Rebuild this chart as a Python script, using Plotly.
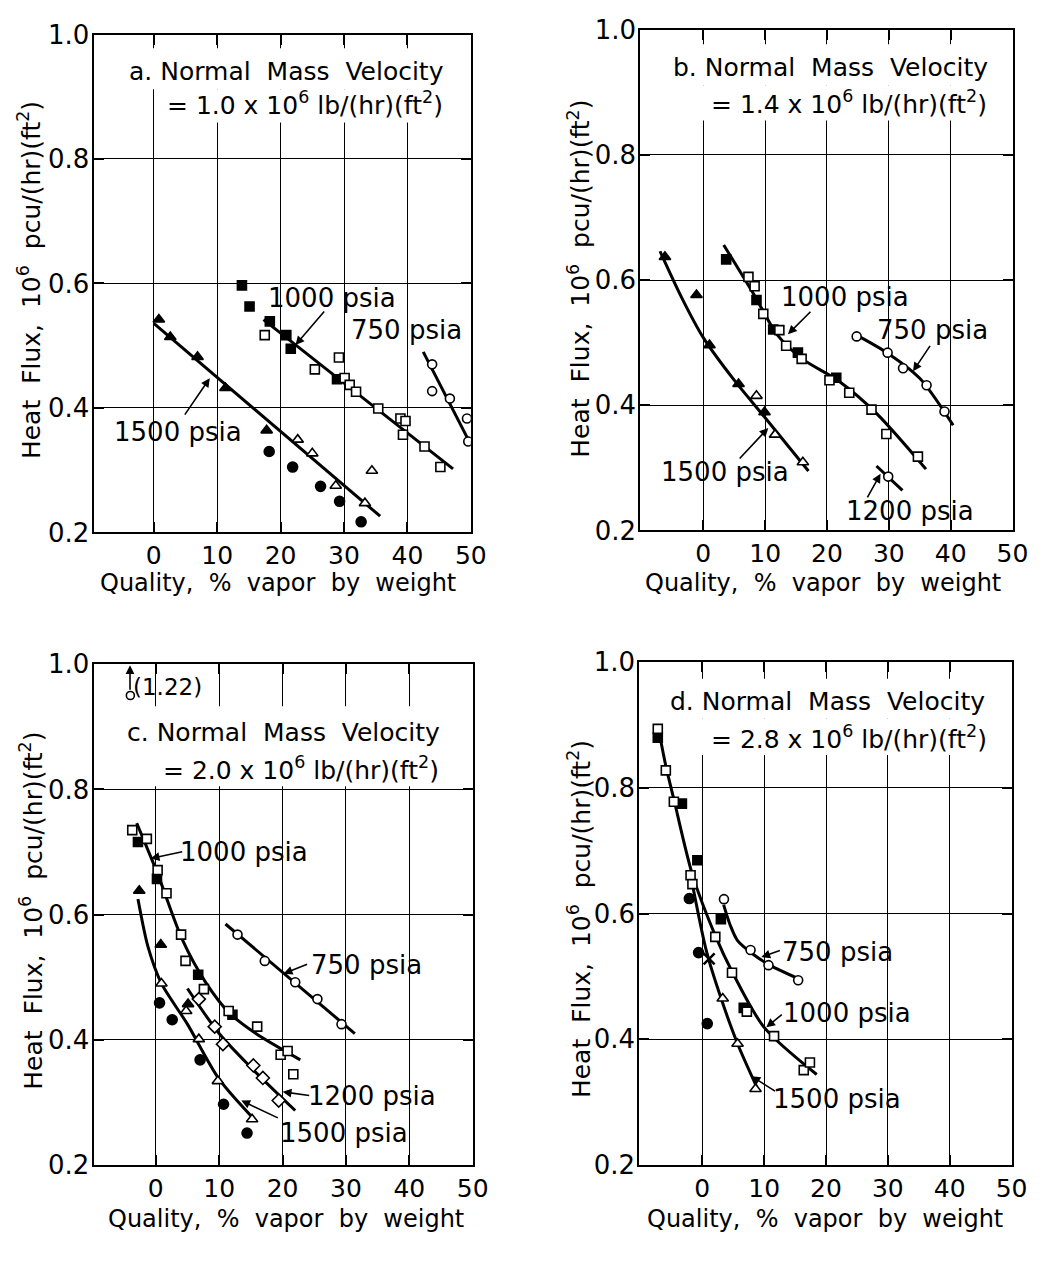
import plotly.graph_objects as go

W, H = 1063, 1262
FONT = "DejaVu Sans"

# ---------------- Panel a: G = 1.0e6 ----------------
a_1000_filled_x = [13.9, 15.1, 18.3, 20.9, 21.6, 28.9]
a_1000_filled_y = [0.597, 0.563, 0.539, 0.517, 0.495, 0.446]
a_1000_open_x = [17.5, 25.4, 29.2, 30.1, 30.9, 31.9, 35.4, 38.9, 39.7, 39.3, 42.7, 45.2]
a_1000_open_y = [0.517, 0.462, 0.481, 0.448, 0.437, 0.426, 0.399, 0.383, 0.379, 0.357, 0.338, 0.305]
a_1000_fit_x = [17.3, 47.2]
a_1000_fit_y = [0.542, 0.302]
a_750_x = [43.9, 43.9, 46.7, 49.4, 49.6]
a_750_y = [0.470, 0.427, 0.415, 0.383, 0.346]
a_750_fit_x = [42.5, 50.0]
a_750_fit_y = [0.490, 0.341]
a_1500_trif_x = [0.8, 2.6, 6.9, 11.3, 17.8]
a_1500_trif_y = [0.542, 0.514, 0.482, 0.432, 0.364]
a_1500_trio_x = [22.7, 25.0, 28.7, 34.4, 33.3]
a_1500_trio_y = [0.349, 0.327, 0.275, 0.299, 0.247]
a_1500_circ_x = [18.2, 21.9, 26.3, 29.3, 32.7]
a_1500_circ_y = [0.330, 0.305, 0.274, 0.250, 0.217]
a_1500_fit_x = [0.0, 35.7]
a_1500_fit_y = [0.536, 0.226]

# ---------------- Panel b: G = 1.4e6 ----------------
b_1500_trif_x = [-6.2, -1.1, 1.0, 5.7, 9.9]
b_1500_trif_y = [0.637, 0.576, 0.496, 0.434, 0.389]
b_1500_trio_x = [8.6, 11.6, 16.1]
b_1500_trio_y = [0.415, 0.353, 0.309]
b_1500_fit_x = [-7.0, -3.5, 0.0, 5.0, 10.0, 17.0]
b_1500_fit_y = [0.646, 0.572, 0.508, 0.440, 0.380, 0.295]
b_1000_filled_x = [3.7, 8.6, 11.3, 15.3, 21.5]
b_1000_filled_y = [0.633, 0.568, 0.521, 0.484, 0.444]
b_1000_open_x = [7.3, 8.3, 9.7, 12.3, 13.4, 15.9, 20.4, 23.6, 27.2, 29.6, 34.7]
b_1000_open_y = [0.605, 0.590, 0.546, 0.520, 0.495, 0.474, 0.440, 0.420, 0.393, 0.354, 0.318]
b_1000_fit_x = [3.3, 8.0, 12.0, 16.0, 22.0, 28.0, 36.0]
b_1000_fit_y = [0.656, 0.580, 0.512, 0.474, 0.438, 0.387, 0.298]
b_750_x = [24.8, 29.8, 32.3, 36.1, 39.0]
b_750_y = [0.510, 0.484, 0.459, 0.432, 0.390]
b_750_fit_x = [24.8, 30.0, 35.0, 40.4]
b_750_fit_y = [0.512, 0.482, 0.443, 0.368]
b_1200_x = [29.9]
b_1200_y = [0.286]
b_1200_fit_x = [28.0, 32.2]
b_1200_fit_y = [0.303, 0.264]

# ---------------- Panel c: G = 2.0e6 ----------------
c_1000_open_x = [-3.7, -1.4, 0.3, 1.7, 4.0, 4.7, 7.6, 11.5, 16.0, 19.7, 20.8, 21.7]
c_1000_open_y = [0.735, 0.721, 0.671, 0.634, 0.568, 0.526, 0.481, 0.446, 0.421, 0.376, 0.382, 0.345]
c_1000_filled_x = [-2.8, 0.2, 6.7, 12.1]
c_1000_filled_y = [0.716, 0.657, 0.504, 0.440]
c_1000_fit_x = [-3.0, 0.3, 4.2, 7.8, 11.6, 15.8, 22.8]
c_1000_fit_y = [0.746, 0.665, 0.560, 0.493, 0.443, 0.410, 0.368]
c_750_x = [12.9, 17.2, 22.0, 25.5, 29.3]
c_750_y = [0.568, 0.526, 0.492, 0.465, 0.425]
c_750_fit_x = [11.0, 31.4]
c_750_fit_y = [0.585, 0.410]
c_1200_x = [6.8, 9.3, 10.6, 15.4, 16.9, 19.4]
c_1200_y = [0.465, 0.421, 0.393, 0.359, 0.339, 0.303]
c_1200_fit_x = [5.0, 10.0, 15.0, 22.0]
c_1200_fit_y = [0.482, 0.410, 0.356, 0.287]
c_1500_trif_x = [-2.6, 0.8, 5.1]
c_1500_trif_y = [0.638, 0.552, 0.457]
c_1500_trio_x = [0.9, 4.8, 6.8, 9.8, 15.2]
c_1500_trio_y = [0.490, 0.446, 0.401, 0.334, 0.273]
c_1500_circ_x = [0.6, 2.6, 7.0, 10.7, 14.4]
c_1500_circ_y = [0.459, 0.432, 0.368, 0.297, 0.251]
c_1500_fit_x = [-2.8, -1.2, 0.9, 5.0, 10.0, 15.8]
c_1500_fit_y = [0.625, 0.548, 0.490, 0.425, 0.337, 0.270]
c_offscale_x = [-4.0]
c_offscale_y = [0.950]
c_offscale_label = "(1.22)"

# ---------------- Panel d: G = 2.8e6 ----------------
d_1000_open_x = [-7.2, -5.9, -4.6, -1.9, -1.6, 2.1, 4.8, 7.2, 11.6, 16.4, 17.4]
d_1000_open_y = [0.894, 0.828, 0.778, 0.661, 0.647, 0.563, 0.506, 0.444, 0.405, 0.351, 0.363]
d_1000_filled_x = [-7.2, -3.3, -0.8, 3.0, 6.7]
d_1000_filled_y = [0.880, 0.775, 0.685, 0.591, 0.450]
d_1000_fit_x = [-7.2, -5.9, -4.6, -1.6, 2.1, 4.8, 10.0, 18.5]
d_1000_fit_y = [0.900, 0.835, 0.782, 0.662, 0.565, 0.508, 0.419, 0.344]
d_1500_circ_x = [-2.1, -0.6, 0.8]
d_1500_circ_y = [0.624, 0.538, 0.425]
d_1500_trio_x = [3.3, 5.7, 8.6]
d_1500_trio_y = [0.465, 0.393, 0.321]
d_1500_cross_x = [1.1]
d_1500_cross_y = [0.528]
d_1500_fit_x = [-1.9, 0.7, 3.0, 5.7, 8.9]
d_1500_fit_y = [0.662, 0.539, 0.466, 0.393, 0.322]
d_750_x = [3.5, 7.8, 10.7, 15.5]
d_750_y = [0.623, 0.542, 0.518, 0.494]
d_750_fit_x = [3.45, 4.5, 5.7, 8.0, 10.9, 16.1]
d_750_fit_y = [0.614, 0.582, 0.557, 0.537, 0.518, 0.494]

x_ticks = [0, 10, 20, 30, 40, 50]
y_ticks = [0.2, 0.4, 0.6, 0.8, 1.0]
y_ticktext = ["0.2", "0.4", "0.6", "0.8", "1.0"]

fig = go.Figure()


def line(x, y, ax, spline=False):
    fig.add_trace(go.Scatter(
        x=x, y=y, mode="lines", xaxis="x" + ax, yaxis="y" + ax,
        line=dict(color="black", width=3, shape="spline" if spline else "linear", smoothing=0.8),
        showlegend=False, hoverinfo="skip"))


def pts(x, y, ax, symbol, filled, size=9):
    fig.add_trace(go.Scatter(
        x=x, y=y, mode="markers", xaxis="x" + ax, yaxis="y" + ax,
        marker=dict(symbol=symbol, size=size, color="black" if filled else "white",
                    line=dict(color="black", width=1.6)),
        showlegend=False, hoverinfo="skip"))


A, B, C, D = "", "2", "3", "4"
# panel a
line(a_1000_fit_x, a_1000_fit_y, A)
line(a_750_fit_x, a_750_fit_y, A)
line(a_1500_fit_x, a_1500_fit_y, A)
pts(a_1000_filled_x, a_1000_filled_y, A, "square", True)
pts(a_1000_open_x, a_1000_open_y, A, "square", False)
pts(a_750_x, a_750_y, A, "circle", False)
pts(a_1500_trif_x, a_1500_trif_y, A, "triangle-up", True, 10)
pts(a_1500_trio_x, a_1500_trio_y, A, "triangle-up", False, 10)
pts(a_1500_circ_x, a_1500_circ_y, A, "circle", True, 10)

# panel b
line(b_1500_fit_x, b_1500_fit_y, B, True)
line(b_1000_fit_x, b_1000_fit_y, B, True)
line(b_750_fit_x, b_750_fit_y, B, True)
line(b_1200_fit_x, b_1200_fit_y, B)
pts(b_1500_trif_x, b_1500_trif_y, B, "triangle-up", True, 10)
pts(b_1500_trio_x, b_1500_trio_y, B, "triangle-up", False, 10)
pts(b_1000_filled_x, b_1000_filled_y, B, "square", True)
pts(b_1000_open_x, b_1000_open_y, B, "square", False)
pts(b_750_x, b_750_y, B, "circle", False)
pts(b_1200_x, b_1200_y, B, "circle", False)

# panel c
line(c_1000_fit_x, c_1000_fit_y, C, True)
line(c_750_fit_x, c_750_fit_y, C)
line(c_1200_fit_x, c_1200_fit_y, C, True)
line(c_1500_fit_x, c_1500_fit_y, C, True)
pts(c_1000_filled_x, c_1000_filled_y, C, "square", True)
pts(c_1000_open_x, c_1000_open_y, C, "square", False)
pts(c_750_x, c_750_y, C, "circle", False)
pts(c_1200_x, c_1200_y, C, "diamond", False, 10)
pts(c_1500_trif_x, c_1500_trif_y, C, "triangle-up", True, 10)
pts(c_1500_trio_x, c_1500_trio_y, C, "triangle-up", False, 10)
pts(c_1500_circ_x, c_1500_circ_y, C, "circle", True, 10)
pts(c_offscale_x, c_offscale_y, C, "circle", False, 8)

# panel d
line(d_1000_fit_x, d_1000_fit_y, D, True)
line(d_1500_fit_x, d_1500_fit_y, D, True)
line(d_750_fit_x, d_750_fit_y, D, True)
pts(d_1000_filled_x, d_1000_filled_y, D, "square", True)
pts(d_1000_open_x, d_1000_open_y, D, "square", False)
pts(d_1500_circ_x, d_1500_circ_y, D, "circle", True, 10)
pts(d_1500_trio_x, d_1500_trio_y, D, "triangle-up", False, 10)
fig.add_trace(go.Scatter(x=d_1500_cross_x, y=d_1500_cross_y, mode="markers", xaxis="x4", yaxis="y4",
                         marker=dict(symbol="x-thin", size=11, line=dict(color="black", width=2.5)),
                         showlegend=False, hoverinfo="skip"))
pts(d_750_x, d_750_y, D, "circle", False)


def xax(dom, xmin):
    return dict(domain=dom, range=[xmin, 50], tickvals=x_ticks, ticks="inside", ticklen=10,
                tickwidth=1.5, tickcolor="black", showline=True, linecolor="black", linewidth=2,
                mirror="ticks", showgrid=True, gridcolor="black", gridwidth=1.3, zeroline=False,
                tickfont=dict(family=FONT, size=25, color="black"), fixedrange=True)


def yax(dom, anchor):
    return dict(domain=dom, range=[0.2, 1.0], tickvals=y_ticks, ticktext=y_ticktext, ticks="inside",
                ticklen=10, tickwidth=1.5, tickcolor="black", showline=True, linecolor="black",
                linewidth=2, mirror="ticks", showgrid=True, gridcolor="black", gridwidth=1.3,
                zeroline=False, anchor=anchor, ticklabelstandoff=-3,
                tickfont=dict(family=FONT, size=26, color="black"), fixedrange=True)


def px_dom(a, b):
    return [a / W, b / W]


def py_dom(top, bot):
    return [1 - bot / H, 1 - top / H]


# white areas behind the panel titles (they interrupt the grid, as in the original)
def blank(x0, y0, x1, y1):
    return dict(type="rect", xref="paper", yref="paper", x0=x0 / W, x1=x1 / W,
                y0=1 - y1 / H, y1=1 - y0 / H, fillcolor="white", line=dict(width=0),
                layer="above")


shapes = [
    blank(112, 34, 470, 76), blank(158, 76, 466, 110),
    blank(668, 30, 1018, 72), blank(712, 72, 1012, 108),
    blank(112, 708, 466, 755), blank(152, 755, 462, 790),
    blank(672, 680, 1018, 721), blank(712, 721, 1012, 758),
]

fig.update_layout(
    width=W, height=H, margin=dict(l=0, r=0, t=0, b=0),
    paper_bgcolor="white", plot_bgcolor="white", shapes=shapes,
    xaxis=dict(xax(px_dom(95, 478), -9.5), anchor="y"),
    yaxis=yax(py_dom(20, 530), "x"),
    xaxis2=dict(xax(px_dom(650, 1028), -10.2), anchor="y2"),
    yaxis2=yax(py_dom(15, 528), "x2"),
    xaxis3=dict(xax(px_dom(95, 480), -9.8), anchor="y3"),
    yaxis3=yax(py_dom(665, 1178), "x3"),
    xaxis4=dict(xax(px_dom(649, 1027), -10.2), anchor="y4"),
    yaxis4=yax(py_dom(663, 1178), "x4"),
)

ann = []


def P(px, py):
    return px / W, 1 - py / H


def text(px, py, s, size=26, xanchor="center", align="center"):
    x, y = P(px, py)
    ann.append(dict(x=x, y=y, xref="paper", yref="paper", text=s, showarrow=False, xanchor=xanchor,
                    yanchor="middle", align=align, font=dict(family=FONT, size=size, color="black")))


def arrow(hx, hy, tx, ty):
    x, y = P(hx, hy)
    ann.append(dict(x=x, y=y, xref="paper", yref="paper", text="", showarrow=True,
                    ax=tx - hx, ay=ty - hy, arrowhead=2, arrowsize=1.1, arrowwidth=1.6,
                    arrowcolor="black"))


def title(c1, c2, letter, g):
    text(c1[0], c1[1], f"{letter}. Normal  Mass  Velocity", size=25)
    text(c2[0], c2[1], f"= {g} x 10<sup>6</sup> lb/(hr)(ft<sup>2</sup>)", size=25)


title((291, 58), (310, 91), "a", "1.0")
title((843, 54), (862, 90), "b", "1.4")
title((288, 735), (306, 772), "c", "2.0")
title((840, 703), (862, 740), "d", "2.8")

ylab = "Heat  Flux,  10<sup>6</sup>  pcu/(hr)(ft<sup>2</sup>)"
xlab = "Quality,  %  vapor  by  weight"
for (cx, cy) in [(30, 272), (588, 270), (32, 918), (589, 926)]:
    x, y = P(cx, cy)
    ann.append(dict(x=x, y=y, xref="paper", yref="paper", text=ylab, showarrow=False,
                    textangle=-90, xanchor="center", yanchor="middle",
                    font=dict(family=FONT, size=25, color="black")))
for (cx, cy) in [(282, 582), (836, 582), (290, 1233), (838, 1233)]:
    text(cx, cy, xlab, size=24)

# panel a labels
text(337, 290, "1000 psia"); arrow(300, 338, 330, 303)
text(413, 323, "750 psia")
text(181, 427, "1500 psia"); arrow(213, 372, 187, 410)
# panel b labels
text(858, 289, "1000 psia"); arrow(800, 327, 824, 303)
text(947, 323, "750 psia"); arrow(927, 365, 945, 338)
text(736, 468, "1500 psia"); arrow(780, 423, 750, 455)
text(924, 508, "1200 psia"); arrow(894, 470, 880, 495)
# panel c labels
text(248, 857, "1000 psia"); arrow(153, 864, 186, 857)
text(372, 973, "750 psia"); arrow(288, 982, 313, 972)
text(378, 1107, "1200 psia"); arrow(287, 1103, 315, 1107)
text(349, 1145, "1500 psia"); arrow(245, 1112, 283, 1130)
text(170, 688, c_offscale_label, size=23); arrow(132, 666, 132, 692)
# panel d labels
text(850, 960, "750 psia"); arrow(773, 965, 793, 958)
text(860, 1022, "1000 psia"); arrow(778, 1037, 795, 1023)
text(850, 1110, "1500 psia"); arrow(763, 1087, 788, 1103)

fig.update_layout(annotations=ann)
fig.write_html("out.html")
